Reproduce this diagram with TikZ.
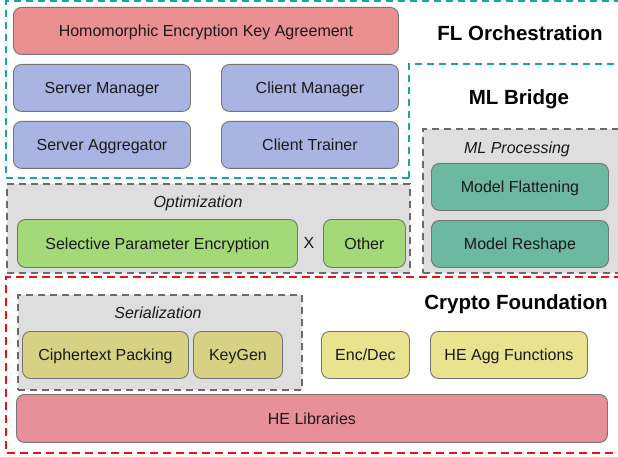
\documentclass[tikz,border=0pt]{standalone}
\usepackage{fontspec}
\setmainfont{Liberation Sans}
\definecolor{cyanD}{HTML}{1AA3AD}
\definecolor{redD}{HTML}{F01010}
\definecolor{greyD}{HTML}{6A6A6A}
\definecolor{greyF}{HTML}{DEDEDE}
\definecolor{keyC}{HTML}{EB9090}
\definecolor{blueC}{HTML}{A9B4E3}
\definecolor{greenC}{HTML}{A4D97A}
\definecolor{tealC}{HTML}{6CB8A1}
\definecolor{khakiC}{HTML}{D7D283}
\definecolor{yelC}{HTML}{E9E38F}
\definecolor{libC}{HTML}{E8909A}
\definecolor{edgeC}{HTML}{747474}
\tikzset{
  comp/.style={draw=edgeC, line width=0.9pt, rounded corners=8pt, anchor=north west,
    inner sep=0pt, text height=11.5pt, text depth=0pt, font=\fontsize{16}{18}\selectfont, text=black!90},
  cyanbox/.style={draw=cyanD, line width=1.8pt, dash pattern=on 7pt off 5pt},
  redbox/.style={draw=redD, line width=1.8pt, dash pattern=on 8pt off 5pt},
  greybox/.style={draw=greyD, fill=greyF, line width=1.8pt, dash pattern=on 7pt off 5pt, anchor=north west, inner sep=0pt},
  ltitle/.style={font=\fontsize{20.5}{22}\selectfont\bfseries, inner sep=0pt, text height=14.8pt, text depth=0pt},
  gtitle/.style={font=\fontsize{16}{18}\selectfont\itshape, text=black!90, inner sep=0pt, text height=11.5pt, text depth=0pt},
}
\begin{document}
\begin{tikzpicture}[x=1pt,y=-1pt]
\useasboundingbox (0,0) rectangle (618,457);
% layer containers
\draw[cyanbox] (409,178) -- (6,178) -- (6,1) -- (622,1);
\draw[cyanbox] (409,178) -- (409,64) -- (622,64);
\draw[redbox] (622,277) -- (6,277) -- (6,453) -- (622,453);
\node[greybox, minimum width=403pt, minimum height=89pt] (opt) at (6,183) {};
\node[greybox, minimum width=200pt, minimum height=144pt] (mlp) at (422,128) {};
\node[greybox, minimum width=284pt, minimum height=95pt] (ser) at (17,294) {};
% titles
\node[ltitle] (tfl) at (520,33) {FL Orchestration};
\node[ltitle] (tml) at (519,97) {ML Bridge};
\node[ltitle] (tcf) at (516,302) {Crypto Foundation};
\node[gtitle] (topt) at (198,202) {Optimization};
\node[gtitle] (tmlp) at (517,148) {ML Processing};
\node[gtitle] (tser) at (158,313) {Serialization};
% FL orchestration
\node[comp, fill=keyC, minimum width=385pt, minimum height=47pt] (key) at (13,7) {Homomorphic Encryption Key Agreement};
\node[comp, fill=blueC, minimum width=177pt, minimum height=47pt] (sm) at (13,64) {Server Manager};
\node[comp, fill=blueC, minimum width=177pt, minimum height=47pt] (cm) at (221,64) {Client Manager};
\node[comp, fill=blueC, minimum width=177pt, minimum height=47pt] (sa) at (13,121) {Server Aggregator};
\node[comp, fill=blueC, minimum width=177pt, minimum height=47pt] (ct) at (221,121) {Client Trainer};
% optimization
\node[comp, fill=greenC, minimum width=280pt, minimum height=48pt] (spe) at (17,219) {Selective Parameter Encryption};
\node[font=\fontsize{16}{18}\selectfont, text=black!90, inner sep=0pt, text height=11.5pt, text depth=0pt] (x) at (309,243) {X};
\node[comp, fill=greenC, minimum width=82pt, minimum height=48pt] (oth) at (323,219) {Other};
% ML processing
\node[comp, fill=tealC, minimum width=177pt, minimum height=47pt] (mf) at (431,163) {Model Flattening};
\node[comp, fill=tealC, minimum width=177pt, minimum height=47pt] (mr) at (431,220) {Model Reshape};
% crypto
\node[comp, fill=khakiC, minimum width=166pt, minimum height=47pt] (cp) at (22,331) {Ciphertext Packing};
\node[comp, fill=khakiC, minimum width=89pt, minimum height=47pt] (kg) at (193,331) {KeyGen};
\node[comp, fill=yelC, minimum width=88pt, minimum height=47pt] (ed) at (321,331) {Enc/Dec};
\node[comp, fill=yelC, minimum width=157pt, minimum height=47pt] (hea) at (430,331) {HE Agg Functions};
\node[comp, fill=libC, minimum width=591pt, minimum height=48pt] (hel) at (16,394) {HE Libraries};
\end{tikzpicture}
\end{document}
